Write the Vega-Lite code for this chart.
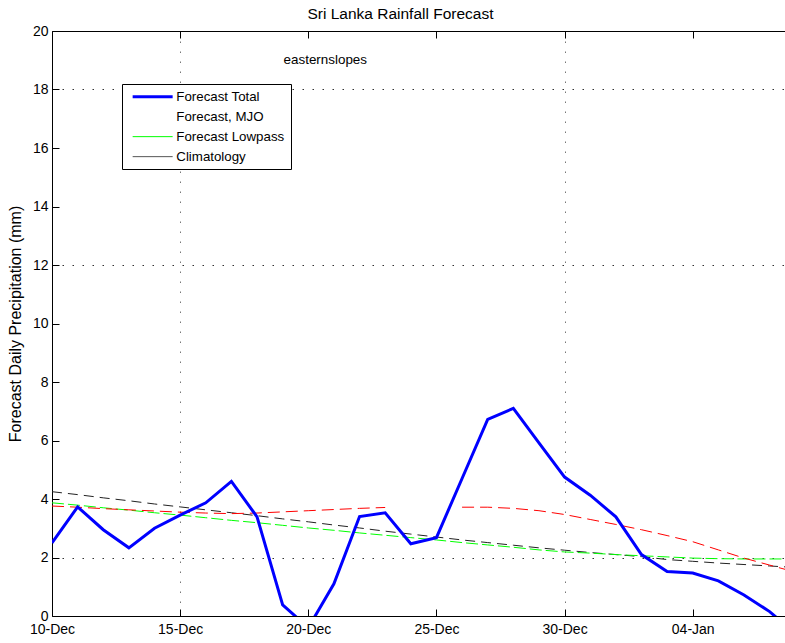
{
  "$schema": "https://vega.github.io/schema/vega-lite/v6.json",
  "width": 733,
  "height": 585,
  "autosize": {"type": "none"},
  "padding": {"left": 52, "top": 31, "right": 0, "bottom": 27},
  "background": "white",
  "config": {
    "font": "Liberation Sans",
    "view": {"stroke": null},
    "axis": {
      "domainColor": "black",
      "tickColor": "black",
      "labelColor": "black",
      "titleColor": "black",
      "labelFont": "Liberation Sans",
      "titleFont": "Liberation Sans",
      "labelFontSize": 14,
      "titleFontWeight": "normal"
    }
  },
  "title": {
    "text": "Sri Lanka Rainfall Forecast",
    "font": "Liberation Sans",
    "fontSize": 15.5,
    "fontWeight": "normal",
    "color": "black",
    "dx": -18,
    "offset": 2
  },
  "datasets": {
    "series": [
      {"date": "2012-12-10", "total": 2.5, "mjo": 3.76, "lowpass": 3.87, "clim": 4.25},
      {"date": "2012-12-11", "total": 3.73, "mjo": 3.72, "lowpass": 3.79, "clim": 4.15},
      {"date": "2012-12-12", "total": 2.95, "mjo": 3.67, "lowpass": 3.7, "clim": 4.04},
      {"date": "2012-12-13", "total": 2.33, "mjo": 3.63, "lowpass": 3.62, "clim": 3.94},
      {"date": "2012-12-14", "total": 3.0, "mjo": 3.59, "lowpass": 3.53, "clim": 3.83},
      {"date": "2012-12-15", "total": 3.45, "mjo": 3.55, "lowpass": 3.45, "clim": 3.73},
      {"date": "2012-12-16", "total": 3.87, "mjo": 3.52, "lowpass": 3.36, "clim": 3.63},
      {"date": "2012-12-17", "total": 4.6, "mjo": 3.5, "lowpass": 3.27, "clim": 3.53},
      {"date": "2012-12-18", "total": 3.39, "mjo": 3.52, "lowpass": 3.19, "clim": 3.43},
      {"date": "2012-12-19", "total": 0.38, "mjo": 3.56, "lowpass": 3.1, "clim": 3.32},
      {"date": "2012-12-20", "total": -0.4, "mjo": 3.6, "lowpass": 3.01, "clim": 3.22},
      {"date": "2012-12-21", "total": 1.1, "mjo": 3.64, "lowpass": 2.93, "clim": 3.11},
      {"date": "2012-12-22", "total": 3.4, "mjo": 3.68, "lowpass": 2.84, "clim": 3.01},
      {"date": "2012-12-23", "total": 3.53, "mjo": 3.71, "lowpass": 2.76, "clim": 2.9},
      {"date": "2012-12-24", "total": 2.47, "mjo": null, "lowpass": 2.68, "clim": 2.8},
      {"date": "2012-12-25", "total": 2.68, "mjo": null, "lowpass": 2.6, "clim": 2.7},
      {"date": "2012-12-26", "total": 4.7, "mjo": 3.72, "lowpass": 2.51, "clim": 2.6},
      {"date": "2012-12-27", "total": 6.72, "mjo": 3.72, "lowpass": 2.43, "clim": 2.51},
      {"date": "2012-12-28", "total": 7.1, "mjo": 3.68, "lowpass": 2.35, "clim": 2.42},
      {"date": "2012-12-29", "total": 5.92, "mjo": 3.6, "lowpass": 2.26, "clim": 2.33},
      {"date": "2012-12-30", "total": 4.75, "mjo": 3.47, "lowpass": 2.19, "clim": 2.25},
      {"date": "2012-12-31", "total": 4.13, "mjo": 3.3, "lowpass": 2.15, "clim": 2.17},
      {"date": "2013-01-01", "total": 3.39, "mjo": 3.13, "lowpass": 2.1, "clim": 2.1},
      {"date": "2013-01-02", "total": 2.1, "mjo": 2.95, "lowpass": 2.06, "clim": 2.03},
      {"date": "2013-01-03", "total": 1.52, "mjo": 2.75, "lowpass": 2.02, "clim": 1.93},
      {"date": "2013-01-04", "total": 1.47, "mjo": 2.54, "lowpass": 1.98, "clim": 1.87},
      {"date": "2013-01-05", "total": 1.2, "mjo": 2.26, "lowpass": 1.96, "clim": 1.81},
      {"date": "2013-01-06", "total": 0.72, "mjo": 1.98, "lowpass": 1.95, "clim": 1.76},
      {"date": "2013-01-07", "total": 0.15, "mjo": 1.74, "lowpass": 1.95, "clim": 1.71},
      {"date": "2013-01-08", "total": -0.6, "mjo": 1.5, "lowpass": 1.95, "clim": 1.66}
    ]
  },
  "data": {"name": "series"},
  "transform": [
    {"fold": ["total", "mjo", "lowpass", "clim"], "as": ["key", "value"]},
    {"calculate": "datum.key === 'total' ? 'Forecast Total' : datum.key === 'mjo' ? 'Forecast, MJO' : datum.key === 'lowpass' ? 'Forecast Lowpass' : 'Climatology'", "as": "series"}
  ],
  "encoding": {
    "x": {
      "field": "date",
      "type": "temporal",
      "scale": {
        "type": "utc",
        "domain": [
          {"year": 2012, "month": 12, "date": 10, "utc": true},
          {"year": 2013, "month": 1, "date": 7, "hours": 14, "minutes": 24, "utc": true}
        ]
      },
      "axis": {
        "orient": "bottom",
        "title": null,
        "labelExpr": "utcFormat(datum.value, '%d-%b')",
        "values": [
          {"year": 2012, "month": 12, "date": 10, "utc": true},
          {"year": 2012, "month": 12, "date": 15, "utc": true},
          {"year": 2012, "month": 12, "date": 20, "utc": true},
          {"year": 2012, "month": 12, "date": 25, "utc": true},
          {"year": 2012, "month": 12, "date": 30, "utc": true},
          {"year": 2013, "month": 1, "date": 4, "utc": true}
        ],
        "tickSize": -7,
        "labelPadding": 13,
        "labelFlush": false,
        "labelOverlap": false,
        "grid": true,
        "gridColor": "#777",
        "gridDash": [1.5, 8.5],
        "gridOpacity": {"condition": {"test": "utcdate(datum.value) == 15 || utcdate(datum.value) == 30", "value": 1}, "value": 0}
      }
    },
    "y": {
      "field": "value",
      "type": "quantitative",
      "scale": {"domain": [0, 20], "nice": false, "zero": false},
      "axis": {
        "title": "Forecast Daily Precipitation (mm)",
        "titleFontSize": 16,
        "titleX": -29,
        "values": [0, 2, 4, 6, 8, 10, 12, 14, 16, 18, 20],
        "tickSize": -7,
        "labelPadding": 11,
        "grid": true,
        "gridColor": "#333",
        "gridDash": [1.5, 8.5],
        "gridOpacity": {"condition": {"test": "datum.value == 2 || datum.value == 12 || datum.value == 18", "value": 1}, "value": 0}
      }
    },
    "color": {
      "field": "series",
      "type": "nominal",
      "scale": {
        "domain": ["Forecast Total", "Forecast, MJO", "Forecast Lowpass", "Climatology"],
        "range": ["#0000ff", "#ffffff", "#00ff00", "#555555"]
      },
      "legend": {
        "orient": "none",
        "legendX": 70,
        "legendY": 53,
        "title": null,
        "symbolType": "stroke",
        "symbolSize": 1600,
        "symbolStrokeWidth": 1,
        "symbolOffset": 18,
        "rowPadding": 6,
        "padding": 6,
        "labelOffset": 17,
        "labelFont": "Liberation Sans",
        "labelFontSize": 13.3,
        "labelColor": "black",
        "labelLimit": 300,
        "fillColor": "white",
        "strokeColor": "black",
        "encode": {"symbols": {"update": {"strokeWidth": {"signal": "datum.value === 'Forecast Total' ? 3 : 1"}}}}
      }
    }
  },
  "resolve": {"axis": {"x": "independent"}},
  "layer": [
    {
      "transform": [{"filter": "datum.series === 'Climatology'"}],
      "mark": {"type": "line", "strokeWidth": 1, "strokeDash": [10, 6], "clip": true},
      "encoding": {
        "x": {
          "field": "date",
          "type": "temporal",
          "axis": {
            "orient": "top",
            "title": null,
            "labels": false,
            "tickSize": -7,
            "grid": false,
            "values": [
              {"year": 2012, "month": 12, "date": 10, "utc": true},
              {"year": 2012, "month": 12, "date": 15, "utc": true},
              {"year": 2012, "month": 12, "date": 20, "utc": true},
              {"year": 2012, "month": 12, "date": 25, "utc": true},
              {"year": 2012, "month": 12, "date": 30, "utc": true},
              {"year": 2013, "month": 1, "date": 4, "utc": true}
            ]
          }
        },
        "color": {"value": "#222222"}
      }
    },
    {
      "layer": [
        {
          "transform": [{"filter": "datum.series === 'Climatology' || datum.series === 'Forecast Lowpass'"}],
          "mark": {"type": "line", "strokeWidth": 1, "strokeDash": [12, 4], "clip": true},
          "encoding": {
            "strokeOpacity": {"condition": {"test": "datum.series === 'Forecast Lowpass'", "value": 1}, "value": 0}
          }
        },
        {
          "transform": [{"filter": "datum.series === 'Forecast, MJO'"}],
          "mark": {"type": "line", "strokeWidth": 1, "strokeDash": [12, 6], "clip": true, "invalid": "break-paths-filter-domains"},
          "encoding": {"color": {"value": "#ff0000"}}
        },
        {
          "transform": [{"filter": "datum.series === 'Forecast Total'"}],
          "mark": {"type": "line", "strokeWidth": 3, "clip": true}
        },
        {
          "transform": [{"filter": "datum.series === 'Forecast Total' && utcmonth(datum.date) == 11 && utcdate(datum.date) == 20"}],
          "mark": {"type": "text", "font": "Liberation Sans", "fontSize": 13.4, "fill": "black", "dx": 17, "baseline": "middle", "align": "center"},
          "encoding": {
            "y": {"datum": 19, "type": "quantitative"},
            "text": {"value": "easternslopes"},
            "color": {"value": "black"}
          }
        }
      ]
    }
  ]
}
